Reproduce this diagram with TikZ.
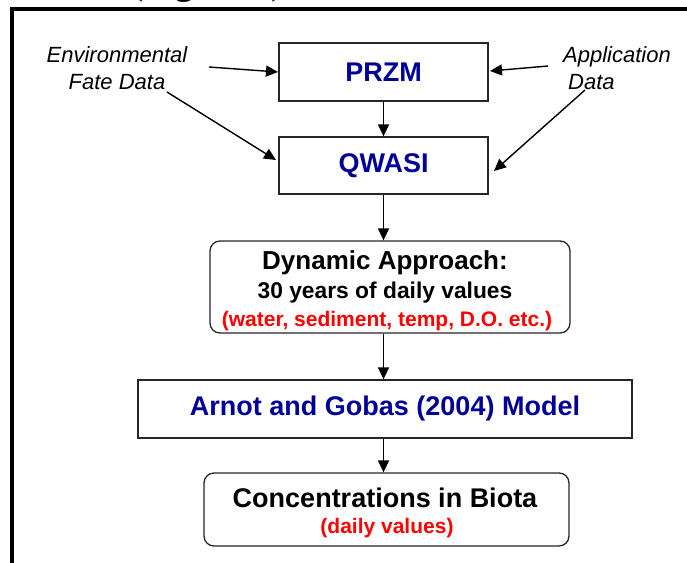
\documentclass[tikz,border=0pt]{standalone}
\usepackage{fontspec}
\setmainfont{Liberation Sans}
\newfontfamily\titlefont{Liberation Serif}
\usetikzlibrary{arrows.meta}
\definecolor{navy}{RGB}{0,0,153}
\definecolor{redtxt}{RGB}{255,0,0}
\tikzset{
  box/.style={draw=black!85, line width=1.3pt, inner sep=0pt, fill=white},
  rbox/.style={box, rounded corners=10pt},
  conn/.style={line width=1.4pt, -{Triangle[length=12pt,width=11pt]}},
  lbl/.style={font=\itshape\fontsize{22}{27}\selectfont, inner sep=0pt},
  bluet/.style={font=\bfseries\fontsize{27}{32}\selectfont, text=navy},
  line/.style={anchor=base, inner sep=0pt},
}
\begin{document}
\begin{tikzpicture}[x=1pt,y=-1pt]
\useasboundingbox (0,0) rectangle (687,562);
\clip (0,0) rectangle (687,562);
% partly hidden title
\node[anchor=base west, inner sep=0pt, font=\titlefont\bfseries\fontsize{36}{40}\selectfont] (title) at (131,-5.5) {(Figure 1)};
% frame
\draw[line width=4.5pt] (12,570) -- (12,9) -- (700,9);
% boxes
\node[box, minimum width=209pt, minimum height=58pt, bluet] (przm) at (383.5,72) {PRZM};
\node[box, minimum width=209pt, minimum height=57pt, bluet] (qwasi) at (383.5,165.5) {QWASI};
\node[rbox, minimum width=360pt, minimum height=92pt] (dyn) at (390,287) {};
\node[line, font=\bfseries\fontsize{26}{30}\selectfont] (dyn1) at (385,269) {Dynamic Approach:};
\node[line, font=\bfseries\fontsize{22.8}{27}\selectfont] (dyn2) at (385,298) {30 years of daily values};
\node[line, font=\bfseries\fontsize{21}{25}\selectfont, text=redtxt] (dyn3) at (387,326) {(water, sediment, temp, D.O. etc.)};
\node[box, minimum width=494pt, minimum height=58pt, bluet] (arnot) at (385,409) {Arnot and Gobas (2004) Model};
\node[rbox, minimum width=365pt, minimum height=73pt] (conc) at (386.5,509.5) {};
\node[line, font=\bfseries\fontsize{27}{31}\selectfont] (conc1) at (385,507) {Concentrations in Biota};
\node[line, font=\bfseries\fontsize{21}{25}\selectfont, text=redtxt] (conc2) at (387,533) {(daily values)};
% side labels
\node[lbl, anchor=base] (env1) at (117,62) {Environmental};
\node[lbl, anchor=base] (env2) at (117,89) {Fate Data};
\node[lbl, anchor=base west] (app1) at (563,62) {Application};
\node[lbl, anchor=base west] (app2) at (568,89) {Data};
% connector ends
\coordinate (envA) at (209,67);
\coordinate (envB) at (167,92);
\coordinate (appA) at (548,66);
\coordinate (appB) at (585,90);
\coordinate (przmL) at (278,72);
\coordinate (qwasiL) at (276,160);
\coordinate (przmR) at (490,71);
\coordinate (qwasiR) at (494,171);
% connectors
\draw[conn] (envA) -- (przmL);
\draw[conn] (envB) -- (qwasiL);
\draw[conn] (appA) -- (przmR);
\draw[conn] (appB) -- (qwasiR);
\draw[conn] (przm.south) -- (qwasi.north);
\draw[conn] (qwasi.south) -- (qwasi.south |- dyn.north);
\draw[conn] (qwasi.south |- dyn.south) -- (qwasi.south |- arnot.north);
\draw[conn] (qwasi.south |- arnot.south) -- (qwasi.south |- conc.north);
\end{tikzpicture}
\end{document}
